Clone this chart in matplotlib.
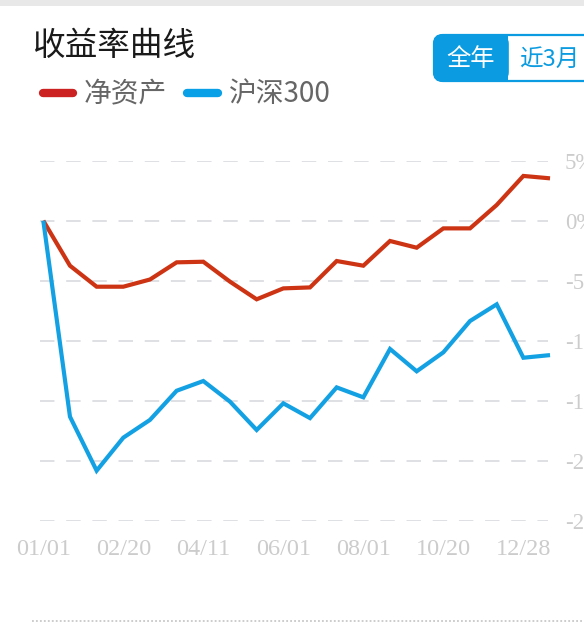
import matplotlib
matplotlib.use("Agg")
import matplotlib.pyplot as plt
from matplotlib.lines import Line2D
from matplotlib.patches import FancyBboxPatch, Rectangle
from matplotlib.transforms import IdentityTransform

W, H = 584, 629

# data (percent)
net_asset = [0, -3.75, -5.5, -5.5, -4.9, -3.47, -3.42, -5.08, -6.55, -5.64,
             -5.56, -3.36, -3.75, -1.69, -2.25, -0.64, -0.64, 1.31, 3.73, 3.53]
hs300 = [0, -16.33, -20.83, -18.08, -16.6, -14.17, -13.36, -15.08, -17.44, -15.22,
         -16.45, -13.89, -14.72, -10.69, -12.55, -10.97, -8.36, -6.97, -11.42, -11.2]
x_labels = ['01/01', '02/20', '04/11', '06/01', '08/01', '10/20', '12/28']
y_ticks = [5, 0, -5, -10, -15, -20, -25]
y_labels = ['5%', '0%', '-5%', '-10%', '-15%', '-20%', '-25%']

RED = '#cd3414'
BLUE = '#13a1e3'
CJK = ['Noto Sans CJK SC', 'DejaVu Sans']
SERIF = 'Liberation Serif'


def px(x, y):
    # top-left pixel coords -> display coords
    return x, H - y


def main():
    fig = plt.figure(figsize=(W / 100, H / 100), dpi=100)
    fig.patch.set_facecolor('white')
    tr = IdentityTransform()

    # grey band at the top
    fig.patches.append(Rectangle(px(0, 6), W, 6, transform=tr,
                                 facecolor='#e8e8e8', edgecolor='none'))

    # title
    fig.text(32 / W, 1 - 46 / H, '收益率曲线', family=CJK, fontsize=23.5,
             color='#1a1a1a', va='center', ha='left')

    # legend
    fig.lines.append(Line2D([43, 73], [H - 93, H - 93], transform=tr,
                            color='#cc2222', lw=6, solid_capstyle='round'))
    fig.text(84 / W, 1 - 94 / H, '净资产', family=CJK, fontsize=20,
             color='#666666', va='center', ha='left')
    fig.lines.append(Line2D([187, 218], [H - 93, H - 93], transform=tr,
                            color='#0aa0e8', lw=6, solid_capstyle='round'))
    fig.text(229 / W, 1 - 94 / H, '沪深300', family=CJK, fontsize=20,
             color='#666666', va='center', ha='left')

    # toggle buttons
    x0, y0, y1 = 434, 35, 81
    fig.patches.append(FancyBboxPatch(px(x0, y1), 200, y1 - y0, transform=tr,
                                      boxstyle='round,pad=0,rounding_size=9',
                                      facecolor='white', edgecolor='#0a9be0', lw=1.6))
    fig.patches.append(FancyBboxPatch(px(x0, y1), 74, y1 - y0, transform=tr,
                                      boxstyle='round,pad=0,rounding_size=9',
                                      facecolor='#0a9be0', edgecolor='#0a9be0', lw=1.2))
    fig.patches.append(Rectangle(px(480, y1), 28, y1 - y0, transform=tr,
                                 facecolor='#0a9be0', edgecolor='none'))
    fig.text(471 / W, 1 - 59 / H, '全年', family=CJK, fontsize=17.5,
             color='white', va='center', ha='center')
    fig.text(519 / W, 1 - 59 / H, '近3月', family=CJK, fontsize=17,
             color='#0a9be0', va='center', ha='left')

    # chart area
    left, right, top, bottom = 40, 548, 160.7, 520.7
    ax = fig.add_axes([left / W, 1 - bottom / H, (right - left) / W, (bottom - top) / H])
    xs = list(range(len(net_asset)))
    step = 26.67
    ax.set_xlim((left - 43.3) / step, (right - 43.3) / step)
    ax.set_ylim(-25, 5)

    for v in y_ticks:
        ax.axhline(v, color='#dcdde2', lw=1.3, ls=(0, (8, 6.5)), zorder=1)

    ax.plot(xs, net_asset, color=RED, lw=3, solid_joinstyle='miter',
            solid_capstyle='butt', clip_on=False, zorder=3)
    ax.plot(xs, hs300, color=BLUE, lw=3, solid_joinstyle='miter',
            solid_capstyle='butt', clip_on=False, zorder=3)

    for s in ax.spines.values():
        s.set_visible(False)
    ax.yaxis.tick_right()
    ax.set_yticks(y_ticks)
    ax.set_yticklabels(y_labels)
    ax.set_xticks(xs[::3])
    ax.set_xticklabels(x_labels)
    ax.tick_params(axis='y', length=0, pad=12, labelsize=16.5, labelcolor='#cccccc')
    ax.tick_params(axis='x', length=0, pad=13, labelsize=17.5, labelcolor='#cccccc')
    for lab in ax.get_xticklabels() + ax.get_yticklabels():
        lab.set_family(SERIF)

    # dotted separator at the bottom
    fig.lines.append(Line2D([32, W], [H - 621, H - 621], transform=tr,
                            color='#c8c8c8', lw=1.3, ls=(0, (1, 1.2))))

    fig.savefig('out.png', dpi=100)


if __name__ == "__main__":
    main()
